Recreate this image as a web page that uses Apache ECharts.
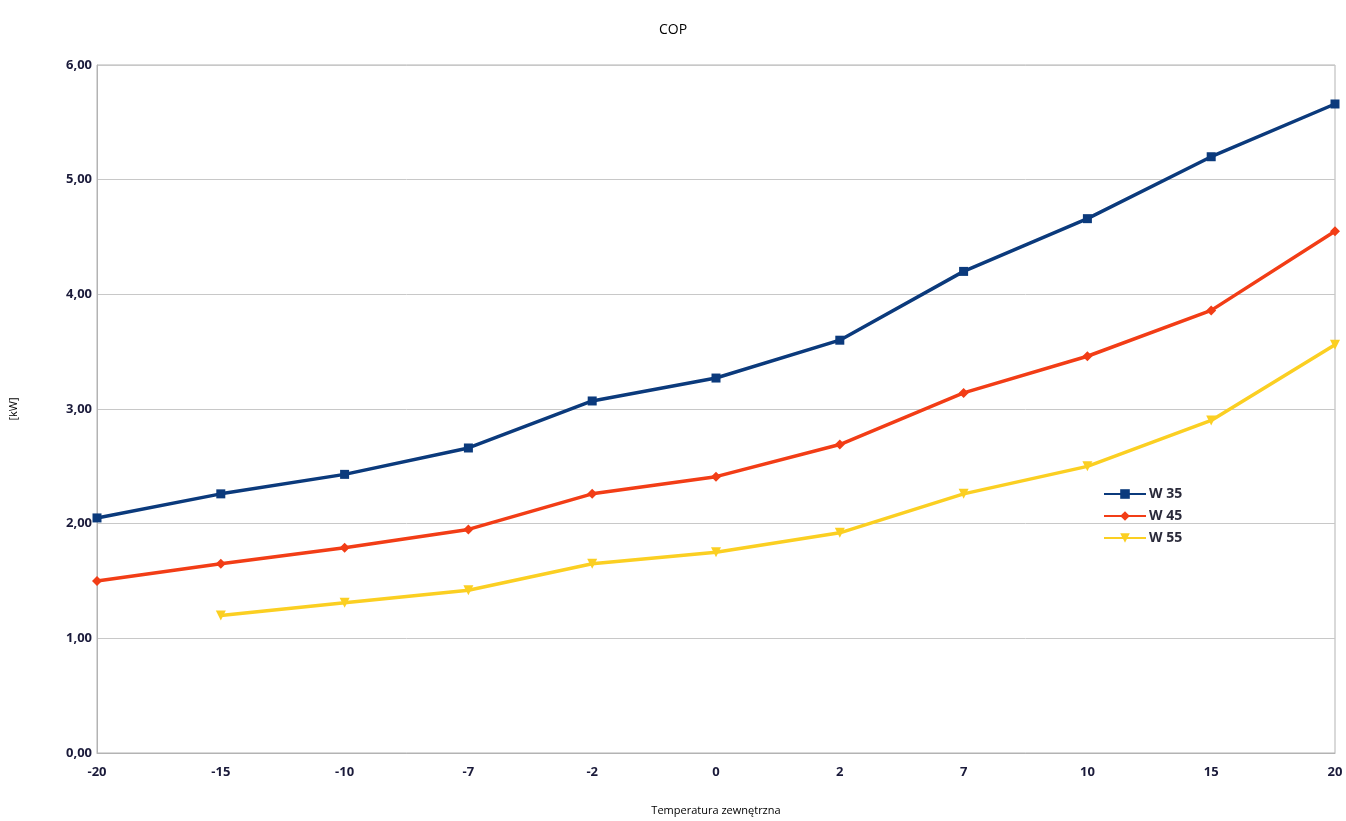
<!DOCTYPE html>
<html><head><meta charset="utf-8">
<script src="https://cdn.jsdelivr.net/npm/echarts@6/dist/echarts.min.js"></script>
<style>html,body{margin:0;padding:0;background:#fff}#c{width:1346px;height:821px}</style>
</head><body><div id="c"></div>
<script>
const categories = ['-20','-15','-10','-7','-2','0','2','7','10','15','20'];
const w35 = [2.05, 2.26, 2.43, 2.66, 3.07, 3.27, 3.60, 4.20, 4.66, 5.20, 5.66];
const w45 = [1.50, 1.65, 1.79, 1.95, 2.26, 2.41, 2.69, 3.14, 3.46, 3.86, 4.55];
const w55 = [null, 1.20, 1.31, 1.42, 1.65, 1.75, 1.92, 2.26, 2.50, 2.90, 3.56];
const seriesNames = ['W 35', 'W 45', 'W 55'];

const chart = echarts.init(document.getElementById('c'));
const font = 'Open Sans';
chart.setOption({
  animation: false,
  title: { text: 'COP', left: 'center', top: 18, textStyle: { fontFamily: font, fontSize: 14, fontWeight: 'normal', color: '#000' } },
  legend: {
    orient: 'vertical', left: 1098, top: 482, itemGap: 8, itemWidth: 42, itemHeight: 12,
    textStyle: { fontFamily: font, fontSize: 14, fontWeight: 'bold', color: '#2a2a3a', padding: [0, 0, 0, -2] },
    data: seriesNames
  },
  grid: { left: 97, right: 11, top: 65, bottom: 67, show: true, borderColor: '#b3b3b3', borderWidth: 1 },
  xAxis: {
    type: 'category', data: categories, boundaryGap: false,
    name: 'Temperatura zewnętrzna', nameLocation: 'middle', nameGap: 52,
    nameTextStyle: { fontFamily: font, fontSize: 11, color: '#000' },
    axisLine: { lineStyle: { color: '#b3b3b3' } }, axisTick: { show: false },
    axisLabel: { fontFamily: font, fontSize: 13, fontWeight: 'bold', color: '#1a1a3a', margin: 13 },
    splitLine: { show: false }
  },
  yAxis: {
    type: 'value', min: 0, max: 6, interval: 1,
    name: '[kW]', nameLocation: 'middle', nameGap: 78, nameRotate: 90,
    nameTextStyle: { fontFamily: font, fontSize: 11, color: '#000' },
    axisLine: { show: true, lineStyle: { color: '#b3b3b3' } }, axisTick: { show: false },
    axisLabel: { fontFamily: font, fontSize: 13, fontWeight: 'bold', color: '#1a1a3a', margin: 5,
      formatter: v => v.toFixed(2).replace('.', ',') },
    splitLine: { lineStyle: { color: '#c8c8c8' } }
  },
  series: [
    { name: seriesNames[0], type: 'line', data: w35, color: '#0b3a7c', lineStyle: { width: 3.5 }, symbol: 'rect', symbolSize: 9 },
    { name: seriesNames[1], type: 'line', data: w45, color: '#f23d16', lineStyle: { width: 3.5 }, symbol: 'diamond', symbolSize: 10 },
    { name: seriesNames[2], type: 'line', data: w55, color: '#fbcf22', lineStyle: { width: 3.5 }, symbol: 'triangle', symbolRotate: 180, symbolSize: 10 }
  ]
});
</script></body></html>
